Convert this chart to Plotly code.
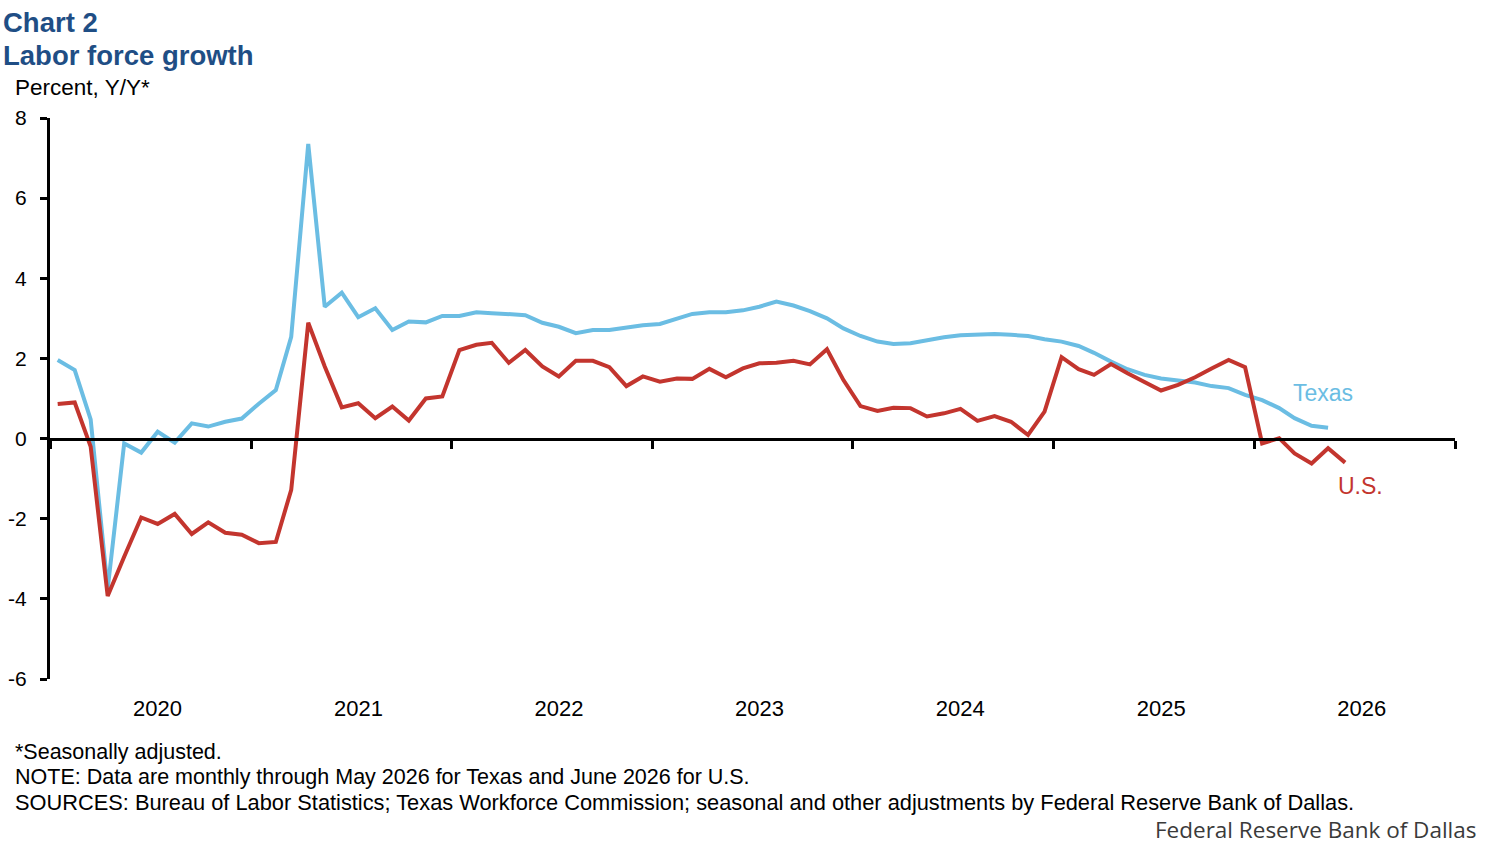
import pandas as pd
import plotly.graph_objects as go

# ---- data (monthly, Jan 2020 onward) ----
texas = [1.96, 1.71, 0.48, -3.75, -0.12, -0.35, 0.17, -0.10, 0.38, 0.30,
         0.42, 0.50, 0.87, 1.21, 2.54, 7.35, 3.29, 3.64, 3.03, 3.25,
         2.71, 2.92, 2.90, 3.06, 3.06, 3.15, 3.13, 3.10, 3.08, 2.89,
         2.79, 2.63, 2.71, 2.71, 2.78, 2.83, 2.86, 3.00, 3.11, 3.15,
         3.15, 3.20, 3.29, 3.42, 3.32, 3.18, 3.00, 2.75, 2.56, 2.42,
         2.36, 2.38, 2.46, 2.53, 2.58, 2.59, 2.61, 2.59, 2.56, 2.48,
         2.42, 2.31, 2.14, 1.92, 1.73, 1.59, 1.50, 1.45, 1.40, 1.31,
         1.26, 1.09, 0.96, 0.76, 0.51, 0.32, 0.27]
us = [0.86, 0.90, -0.20, -3.93, -2.95, -1.97, -2.13, -1.88, -2.38, -2.09,
      -2.35, -2.40, -2.61, -2.58, -1.28, 2.89, 1.80, 0.78, 0.88, 0.51,
      0.80, 0.45, 1.00, 1.05, 2.21, 2.34, 2.39, 1.89, 2.21, 1.80,
      1.55, 1.94, 1.94, 1.78, 1.31, 1.55, 1.42, 1.50, 1.49, 1.74,
      1.53, 1.75, 1.88, 1.89, 1.94, 1.85, 2.23, 1.46, 0.81, 0.69,
      0.77, 0.76, 0.55, 0.63, 0.74, 0.44, 0.56, 0.42, 0.09, 0.67,
      2.03, 1.73, 1.59, 1.86, 1.63, 1.42, 1.20, 1.34, 1.53, 1.75,
      1.96, 1.78, -0.12, 0.01, -0.37, -0.62, -0.24, -0.60]
months = pd.date_range("2020-01-01", periods=len(us), freq="MS")
dates_us = [pd.Timestamp(d.year, d.month, 15) for d in months]
dates_tx = dates_us[:len(texas)]

y_ticks = [-6, -4, -2, 0, 2, 4, 6, 8]
y_ticktext = [str(v) for v in y_ticks]

BLUE = "#6BBDE3"
RED = "#C3352E"
TITLE = "#1F4E85"
FONT = "Liberation Sans, Arial, sans-serif"

W, H = 1493, 845
L, R, T, B = 50, 38, 118, 166
PW, PH = W - L - R, H - T - B


def px(x):
    return (x - L) / PW


def py(y):
    return (H - B - y) / PH


fig = go.Figure()
fig.add_trace(go.Scatter(x=dates_tx, y=texas, mode="lines", name="Texas",
                         line=dict(color=BLUE, width=4), hoverinfo="x+y"))
fig.add_trace(go.Scatter(x=dates_us, y=us, mode="lines", name="U.S.",
                         line=dict(color=RED, width=4), hoverinfo="x+y"))
# invisible trace on the label axis
fig.add_trace(go.Scatter(x=[dates_us[0]], y=[None], xaxis="x2", showlegend=False,
                         hoverinfo="skip", mode="lines"))

xr = ["2020-01-01", "2027-01-01"]
fig.update_layout(
    width=W, height=H,
    margin=dict(l=L, r=R, t=T, b=B, autoexpand=False),
    paper_bgcolor="white", plot_bgcolor="white",
    showlegend=False,
    font=dict(family=FONT, color="black", size=20),
    xaxis=dict(range=xr, type="date", anchor="free", position=6 / 14,
               showline=True, linecolor="black", linewidth=3,
               ticks="outside", ticklen=8, tickwidth=3, tickcolor="black",
               tick0="2020-01-01", dtick="M12", showticklabels=False,
               showgrid=False, zeroline=False, automargin=False),
    xaxis2=dict(range=xr, type="date", overlaying="x", anchor="y", side="bottom",
                showline=False, ticks="", tick0="2020-01-01", dtick="M12",
                ticklabelmode="period", tickformat="%Y", ticklabelshift=7,
                ticklabelstandoff=14, tickfont=dict(size=22, family=FONT),
                showgrid=False, zeroline=False, automargin=False),
    yaxis=dict(range=[-6, 8], tickvals=y_ticks, ticktext=y_ticktext,
               showline=True, linecolor="black", linewidth=3,
               ticks="outside", ticklen=7, tickwidth=3, tickcolor="black",
               ticklabelstandoff=9, tickfont=dict(size=21, family=FONT),
               showgrid=False, zeroline=False, automargin=False),
)

ann = [
    dict(text="<b>Chart 2</b>", x=px(1), y=py(23), size=27.5, color=TITLE),
    dict(text="<b>Labor force growth</b>", x=px(1), y=py(55), size=27.5, color=TITLE),
    dict(text="Percent, Y/Y*", x=px(13), y=py(87), size=22.5, color="black"),
    dict(text="*Seasonally adjusted.", x=px(13), y=py(752), size=21.5, color="black"),
    dict(text="NOTE: Data are monthly through May 2026 for Texas and June 2026 for U.S.",
         x=px(13), y=py(777), size=21.5, color="black"),
    dict(text="SOURCES: Bureau of Labor Statistics; Texas Workforce Commission; seasonal and other adjustments by Federal Reserve Bank of Dallas.",
         x=px(13), y=py(802), size=21.8, color="black"),
    dict(text="Texas", x=px(1291), y=py(393), size=23, color=BLUE),
    dict(text="U.S.", x=px(1336), y=py(486), size=23, color=RED),
]
for a in ann:
    fig.add_annotation(text=a["text"], x=a["x"], y=a["y"], xref="paper", yref="paper",
                       xanchor="left", yanchor="middle", showarrow=False,
                       font=dict(size=a["size"], color=a["color"], family=FONT))

fig.add_annotation(text="Federal Reserve Bank of Dallas", x=px(1478), y=py(829),
                   xref="paper", yref="paper", xanchor="right", yanchor="middle",
                   showarrow=False, borderpad=0,
                   font=dict(size=22.5, color="#3a3a3a", family="Open Sans, sans-serif"))

fig.write_html("out.html")
